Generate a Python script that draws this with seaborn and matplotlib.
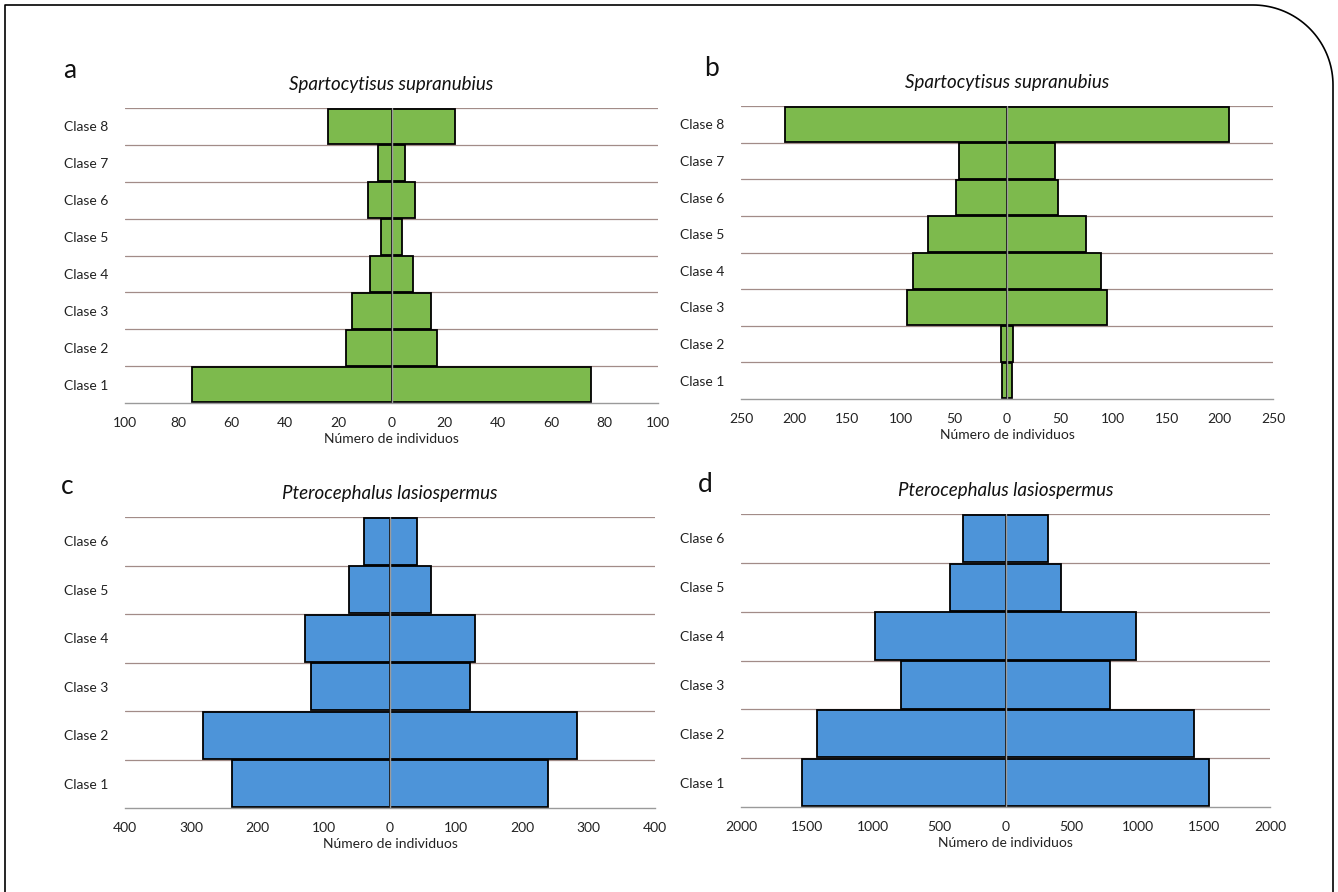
import numpy as np
import pandas as pd
import matplotlib
matplotlib.use("Agg")
import matplotlib.pyplot as plt
from matplotlib.lines import Line2D
import seaborn as sns

sns.set_theme(style="white")
plt.rcParams['font.family'] = ['Lato', 'DejaVu Sans']

# ---- data ----
clases_8 = ["Clase 8", "Clase 7", "Clase 6", "Clase 5", "Clase 4", "Clase 3", "Clase 2", "Clase 1"]
clases_6 = ["Clase 6", "Clase 5", "Clase 4", "Clase 3", "Clase 2", "Clase 1"]

a_vals = [24, 5, 9, 4, 8, 15, 17, 75]
b_vals = [209, 45, 48, 74, 88, 94, 6, 5]
c_vals = [40, 62, 128, 120, 282, 238]
d_vals = [318, 420, 985, 793, 1425, 1540]

a_ticks = [-100, -80, -60, -40, -20, 0, 20, 40, 60, 80, 100]
b_ticks = [-250, -200, -150, -100, -50, 0, 50, 100, 150, 200, 250]
c_ticks = [-400, -300, -200, -100, 0, 100, 200, 300, 400]
d_ticks = [-2000, -1500, -1000, -500, 0, 500, 1000, 1500, 2000]

title_s = "Spartocytisus supranubius"
title_p = "Pterocephalus lasiospermus"
xlabel = "Número de individuos"

GREEN = "#7DBA4D"
BLUE = "#4D94D9"
GRID = "#A28C88"
AXC = "#9A9A9A"

fig = plt.figure(figsize=(13.38, 8.92), dpi=100)

def pos(l, r, t, b):
    W, H = 1338, 892
    return [l / W, 1 - b / H, (r - l) / W, (b - t) / H]

panels = [
    (pos(125, 658, 108, 403), clases_8, a_vals, a_ticks, title_s, GREEN, "a", (70, 70)),
    (pos(741, 1273, 106, 399), clases_8, b_vals, b_ticks, title_s, GREEN, "b", (712, 68)),
    (pos(125, 655, 517, 808), clases_6, c_vals, c_ticks, title_p, BLUE, "c", (67, 487)),
    (pos(741, 1270, 514, 807), clases_6, d_vals, d_ticks, title_p, BLUE, "d", (705, 484)),
]

for rect, cats, vals, ticks, title, color, letter, lpos in panels:
    ax = fig.add_axes(rect)
    df = pd.DataFrame({"clase": cats, "n": vals})
    df["neg"] = -df["n"]
    sns.barplot(data=df, y="clase", x="n", order=cats, color=color, orient="h",
                width=0.97, edgecolor="black", linewidth=1.3, saturation=1, ax=ax, zorder=2)
    sns.barplot(data=df, y="clase", x="neg", order=cats, color=color, orient="h",
                width=0.97, edgecolor="black", linewidth=1.3, saturation=1, ax=ax, zorder=2)
    n = len(cats)
    ax.set_ylim(n - 0.5, -0.5)
    ax.set_xlim(ticks[0], ticks[-1])
    for k in range(n):
        ax.axhline(k - 0.5, color=GRID, lw=0.9, zorder=1)
    ax.axvline(0, color="#9C9C9C", lw=1.0, zorder=3)
    ax.set_xticks(ticks)
    ax.set_xticklabels([str(abs(t)) for t in ticks], fontsize=10, color="#222222")
    ax.tick_params(axis="x", direction="out", length=5, width=1, color=AXC, pad=5)
    ax.tick_params(axis="y", length=0, pad=12, labelsize=10, labelcolor="#222222")
    for s in ["top", "left", "right"]:
        ax.spines[s].set_visible(False)
    ax.spines["bottom"].set_color(AXC)
    ax.spines["bottom"].set_linewidth(1)
    ax.set_ylabel("")
    ax.set_xlabel(xlabel, fontsize=10, color="#222222", labelpad=3)
    ax.set_title(title, fontstyle="italic", fontsize=13.5, pad=13, color="#111111")
    fig.text(lpos[0] / 1338, 1 - lpos[1] / 892, letter, fontsize=19, ha="center", va="center",
             color="#111111")

# outer frame with rounded top-right corner
W, H = 1338, 892
xl, yt, xr, rad = 5, 5, 1333, 80
theta = np.linspace(np.pi / 2, 0, 40)
cx, cy = xr - rad, yt + rad
arc_x = cx + rad * np.cos(theta)
arc_y = cy - rad * np.sin(theta)
xs = np.concatenate([[xl, xl], arc_x, [xr]])
ys = np.concatenate([[H, yt], arc_y, [H]])
fig.add_artist(Line2D(xs / W, 1 - ys / H, color="black", lw=1.2, transform=fig.transFigure))

fig.savefig("out.png", dpi=100)
